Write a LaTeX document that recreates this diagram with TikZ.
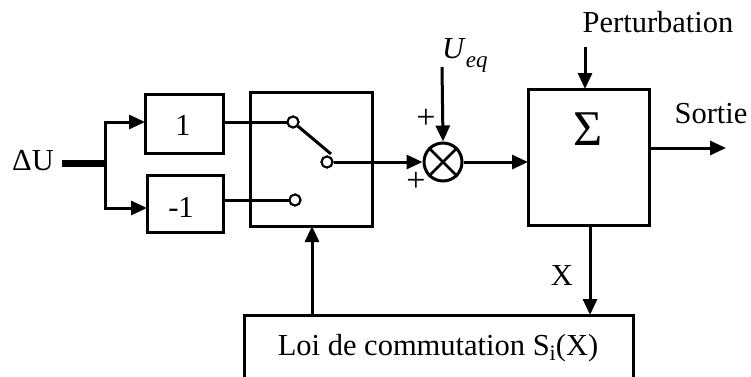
\documentclass[tikz,border=0pt]{standalone}
\usepackage{fontspec}
\setmainfont{Liberation Serif}
\usetikzlibrary{arrows.meta,shapes.geometric}
\tikzset{
  blk/.style={draw,line width=3pt,minimum width=#1,inner sep=0pt,outer sep=0pt},
  conn/.style={line width=3pt},
  arr/.style={line width=3pt,-{Triangle[length=16pt,width=14pt]}},
  contact/.style={circle,draw,line width=2pt,fill=white,minimum size=11pt,inner sep=0pt},
  lbl/.style={font=\fontsize{30.5}{35}\selectfont,inner sep=0pt},
  plus/.style={font=\fontsize{34}{34}\selectfont,inner sep=0pt}
}
\begin{document}
\begin{tikzpicture}[x=1pt,y=-1pt]
\useasboundingbox (0,0) rectangle (751,376);
\clip (0,0) rectangle (751,376);
% blocks
\node[blk=78pt,minimum height=59pt] (box1) at (184,123.5) {};
\node[lbl,anchor=base] (t1) at (183,135) {1};
\node[blk=76pt,minimum height=57pt] (boxm1) at (185,203.5) {};
\node[lbl,anchor=base] (tm1) at (181,217) {-1};
\node[blk=122pt,minimum height=134pt] (sw) at (311,159) {};
\node[blk=121pt,minimum height=136pt] (sig) at (588.5,157) {};
\node[inner sep=0pt,font=\fontsize{50}{50}\selectfont,anchor=base] (sigsym) at (588.5,145) {Σ};
\node[blk=389pt,minimum height=80pt] (loi) at (438.5,355) {};
% labels
\node[lbl,anchor=base] (du) at (33,170) {ΔU};
\node[lbl,anchor=base] (pert) at (658,32) {Perturbation};
\node[lbl,anchor=base] (sortie) at (711,123) {Sortie};
\node[lbl,anchor=base west] (ueq) at (442,58) {\textit{U}\raisebox{-0.3em}{\fontsize{23}{23}\selectfont\textit{eq}}};
\node[lbl,anchor=base] (xl) at (562,285) {X};
\node[lbl,anchor=base] (loitxt) at (438,355) {Loi de commutation S\raisebox{-0.18em}{\fontsize{22}{22}\selectfont i}(X)};
\node[plus] (p1) at (426,119) {+};
\node[plus] (p2) at (416,182) {+};
% coordinates
\coordinate (br) at (105,163);
\coordinate (b1) at (105,122);
\coordinate (b2) at (105,208);
\coordinate (armend) at (331,154);
\coordinate (ueqin) at (442,67);
\coordinate (pin) at (585,47);
\coordinate (sout) at (726,148);
\coordinate (xout) at (590,225);
\coordinate (fb) at (312,315);
% input
\draw[line width=7pt,shorten <=8pt] (du.east |- br) -- (br);
\draw[line width=3pt,line join=miter,{Triangle[length=16pt,width=14pt]}-{Triangle[length=16pt,width=14pt]}]
  (b1 -| box1.west) -- (b1) -- (b2) -- (b2 -| boxm1.west);
% switch
\node[contact] (c1) at (293,122) {};
\node[contact] (c2) at (327,162) {};
\node[contact] (c3) at (295,200) {};
\draw[conn] (box1.east |- c1) -- (c1);
\draw[conn] (boxm1.east |- c3) -- (c3);
\draw[conn] (c1) -- (armend);
\node[contact] at (c1) {};
\node[contact] at (c3) {};
% junction
\node[circle,draw,line width=3pt,minimum size=38pt,inner sep=0pt] (j) at (443,162) {};
\draw[line width=2.6pt] (j.north west) -- (j.south east) (j.north east) -- (j.south west);
\draw[arr] (c2) -- (j.west);
\node[contact] at (c2) {};
\draw[arr] (ueqin) -- (j.north);
\draw[arr] (j.east) -- (j.east -| sig.west);
% plant
\draw[arr] (pin) -- (pin |- sig.north);
\draw[arr] (sig.east |- sout) -- (sout);
\draw[arr] (xout) -- (xout |- loi.north);
\draw[arr] (fb) -- (fb |- sw.south);
\end{tikzpicture}
\end{document}
